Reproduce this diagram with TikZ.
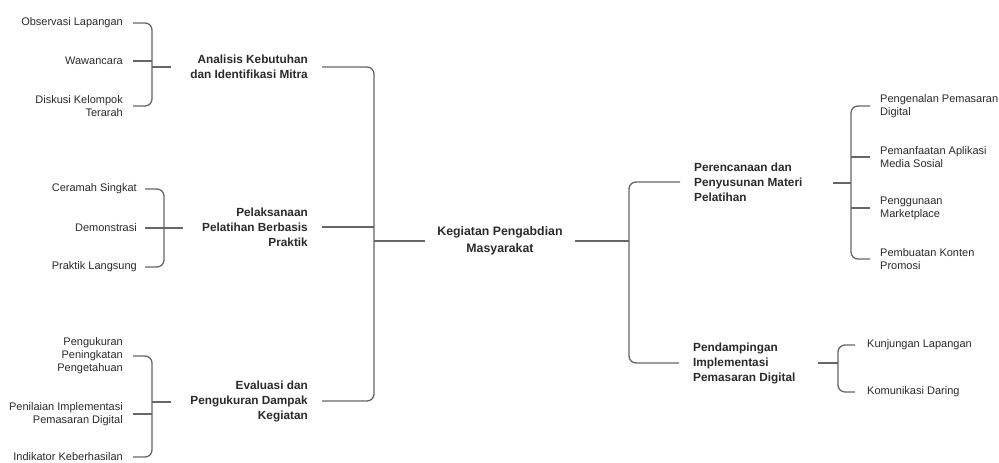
\documentclass[tikz,border=0pt]{standalone}
\usepackage{fontspec}
\setmainfont{Liberation Sans}
\definecolor{txt}{HTML}{2A2A2A}
\definecolor{ln}{HTML}{666666}
\begin{document}
\begin{tikzpicture}[x=1pt,y=-1pt,
  leafl/.style={font=\fontsize{11}{13}\selectfont, text=txt, inner sep=0pt, anchor=east, align=right},
  leafr/.style={font=\fontsize{11}{13}\selectfont, text=txt, inner sep=0pt, anchor=west, align=left},
  hubl/.style={font=\fontsize{11.8}{15}\selectfont\bfseries, text=txt, inner sep=0pt, anchor=east, align=right},
  hubr/.style={font=\fontsize{11.8}{15}\selectfont\bfseries, text=txt, inner sep=0pt, anchor=west, align=left},
  rootbox/.style={font=\fontsize{12.3}{17}\selectfont\bfseries, text=txt, inner sep=0pt, align=center},
  conn/.style={draw=ln, line width=1.3pt, rounded corners=7pt}]
\useasboundingbox (0,0) rectangle (999,463);

% root
\node[rootbox] (root) at (500,241) {Kegiatan Pengabdian\\Masyarakat};

% left hubs
\node[hubl] (ana) at (308,67) {Analisis Kebutuhan\\dan Identifikasi Mitra};
\node[hubl] (pel) at (308,227) {Pelaksanaan\\Pelatihan Berbasis\\Praktik};
\node[hubl] (eva) at (308,401) {Evaluasi dan\\Pengukuran Dampak\\Kegiatan};

% left leaves
\node[leafl] (obs) at (123,23) {Observasi Lapangan};
\node[leafl] (waw) at (123,61) {Wawancara};
\node[leafl] (dis) at (123,106) {Diskusi Kelompok\\Terarah};

\node[leafl] (cer) at (137,189) {Ceramah Singkat};
\node[leafl] (dem) at (137,228) {Demonstrasi};
\node[leafl] (pra) at (137,267) {Praktik Langsung};

\node[leafl] (pk) at (123,356) {Pengukuran\\Peningkatan\\Pengetahuan};
\node[leafl] (pn) at (123,414) {Penilaian Implementasi\\Pemasaran Digital};
\node[leafl] (ind) at (123,457) {Indikator Keberhasilan};

% right hubs
\node[hubr] (per) at (694,182) {Perencanaan dan\\Penyusunan Materi\\Pelatihan};
\node[hubr] (pend) at (693,363) {Pendampingan\\Implementasi\\Pemasaran Digital};

% right leaves
\node[leafr] (pen) at (880,106) {Pengenalan Pemasaran\\Digital};
\node[leafr] (pem) at (880,157) {Pemanfaatan Aplikasi\\Media Sosial};
\node[leafr] (pgg) at (880,208) {Penggunaan\\Marketplace};
\node[leafr] (pmb) at (880,259) {Pembuatan Konten\\Promosi};

\node[leafr] (kun) at (867,345) {Kunjungan Lapangan};
\node[leafr] (kom) at (867,392) {Komunikasi Daring};

% bracket junctions
\coordinate (M) at (374,241);
\coordinate (R) at (629,241);
\coordinate (B1) at (152,67);
\coordinate (B2) at (164,228);
\coordinate (B3) at (152,402);
\coordinate (P) at (851,183);
\coordinate (K) at (838,363);

% main left bracket
\draw[conn] ([xshift=14]ana.east) -| (M) |- ([xshift=14]eva.east);
\draw[conn] ([xshift=14]pel.east) -- (pel.east -| M);
\draw[conn] (M) -- ([xshift=-12]root.west);

% main right bracket
\draw[conn] ([xshift=12]root.east) -- (R);
\draw[conn] ([xshift=-14]per.west) -| (R) |- ([xshift=-14]pend.west);

% group 1
\draw[conn] ([xshift=10]obs.east) -| (B1) |- ([xshift=10]dis.east);
\draw[conn] ([xshift=10]waw.east) -- (waw.east -| B1);
\draw[conn] (B1) -- ++(19,0);

% group 2
\draw[conn] ([xshift=8]cer.east) -| (B2) |- ([xshift=8]pra.east);
\draw[conn] ([xshift=8]dem.east) -- (B2) -- ++(19,0);

% group 3
\draw[conn] ([xshift=10]pk.east) -| (B3) |- ([xshift=10]ind.east);
\draw[conn] ([xshift=10]pn.east) -- (pn.east -| B3);
\draw[conn] (B3) -- ++(19,0);

% right group P
\draw[conn] ([xshift=-10]pen.west) -| (P) |- ([xshift=-10]pmb.west);
\draw[conn] ([xshift=-10]pem.west) -- (pem.west -| P);
\draw[conn] ([xshift=-10]pgg.west) -- (pgg.west -| P);
\draw[conn] ([xshift=-18]P) -- (P);

% right group K
\draw[conn] ([xshift=-12]kun.west) -| (K) |- ([xshift=-12]kom.west);
\draw[conn] ([xshift=-20]K) -- (K);
\end{tikzpicture}
\end{document}
